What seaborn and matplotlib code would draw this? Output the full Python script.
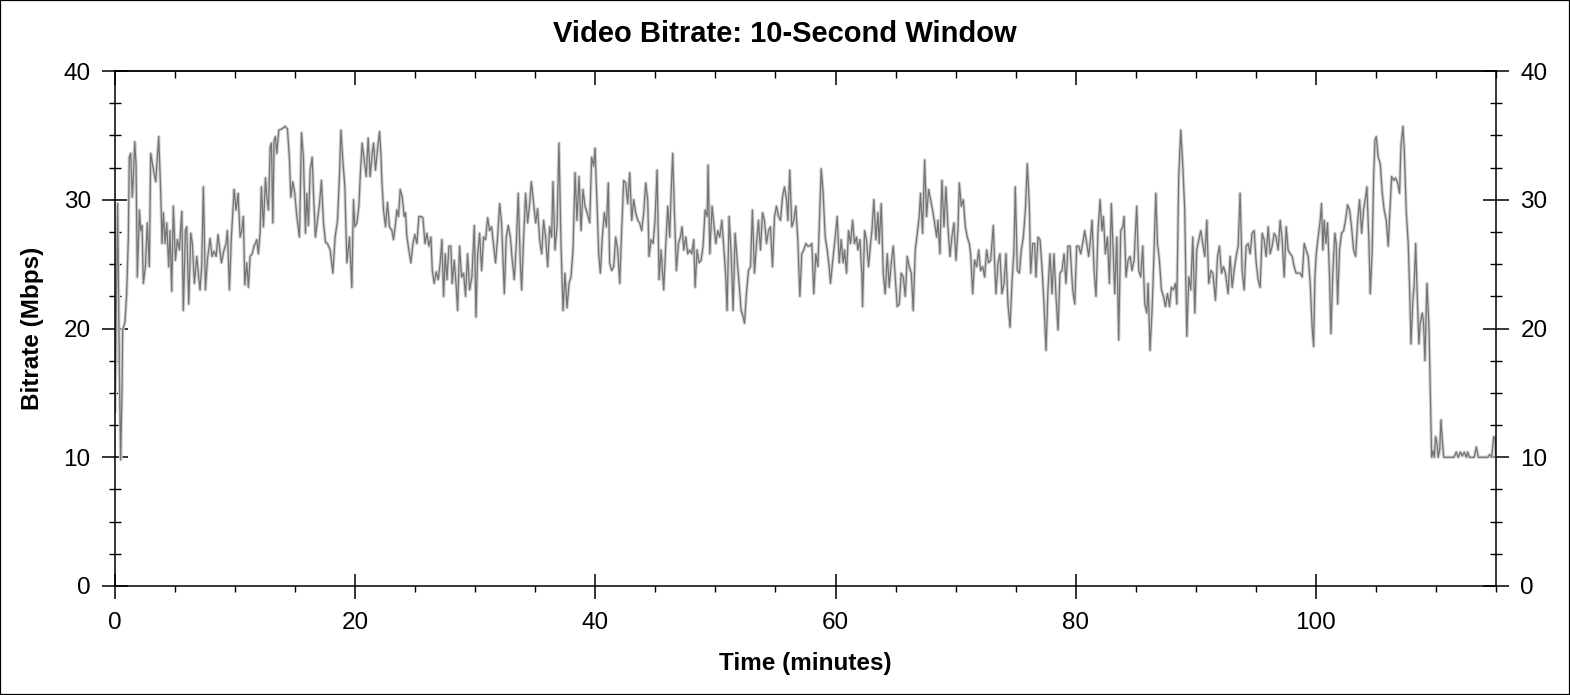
import matplotlib
matplotlib.use("Agg")
import matplotlib.pyplot as plt
import pandas as pd
import seaborn as sns
from matplotlib.ticker import MultipleLocator
from matplotlib.patches import Rectangle

# ---------------- data ----------------
minutes = [
    0.00, 0.22, 0.36, 0.47, 0.58, 0.64, 0.83, 0.97, 1.11, 1.19, 1.31, 1.44, 1.53, 1.64, 1.75, 1.86,
    2.03, 2.14, 2.25, 2.36, 2.53, 2.69, 2.86, 2.97, 3.19, 3.39, 3.64, 3.81, 3.92, 4.03, 4.17, 4.31,
    4.47, 4.58, 4.72, 4.86, 5.03, 5.19, 5.36, 5.56, 5.69, 5.86, 5.97, 6.14, 6.31, 6.44, 6.61, 6.81,
    6.97, 7.08, 7.22, 7.36, 7.53, 7.69, 7.92, 8.08, 8.25, 8.42, 8.58, 8.86, 9.08, 9.25, 9.36, 9.53,
    9.69, 9.81, 9.92, 10.08, 10.25, 10.42, 10.56, 10.69, 10.81, 10.97, 11.11, 11.25, 11.42, 11.58,
    11.81, 11.94, 12.08, 12.19, 12.36, 12.53, 12.64, 12.78, 12.92, 13.03, 13.14, 13.25, 13.36, 13.47,
    13.64, 13.89, 14.17, 14.36, 14.53, 14.64, 14.81, 14.97, 15.14, 15.36, 15.53, 15.69, 15.86, 15.97,
    16.11, 16.25, 16.42, 16.53, 16.69, 16.86, 17.03, 17.19, 17.36, 17.53, 17.69, 17.92, 18.14, 18.33,
    18.53, 18.69, 18.81, 18.97, 19.14, 19.31, 19.53,
    19.72, 19.86, 19.97, 20.14, 20.31, 20.42, 20.58, 20.75, 20.92, 21.08, 21.25, 21.42, 21.53, 21.69,
    21.86, 22.03, 22.14, 22.22, 22.36, 22.53, 22.69, 22.86, 23.06, 23.19, 23.33, 23.47, 23.61, 23.75,
    23.92, 24.08, 24.19, 24.31, 24.47, 24.64, 24.81, 24.97, 25.14, 25.31, 25.47, 25.64, 25.81, 25.97,
    26.14, 26.31, 26.42, 26.58, 26.75, 26.92, 27.08, 27.22, 27.36, 27.50, 27.64, 27.81, 27.97, 28.08,
    28.25, 28.42, 28.53, 28.69, 28.86, 29.03, 29.19, 29.36, 29.53, 29.72, 29.92, 30.06, 30.19, 30.36,
    30.53, 30.69, 30.86, 31.03, 31.19, 31.36, 31.53, 31.69, 31.86, 32.03, 32.19, 32.42, 32.58, 32.75,
    32.92, 33.08, 33.25, 33.42, 33.58, 33.75, 33.86, 34.03, 34.19, 34.36, 34.53, 34.67, 34.86, 35.03,
    35.19, 35.36, 35.53, 35.69, 35.86, 36.03, 36.19, 36.36, 36.47, 36.64, 36.81, 36.97, 37.14, 37.31,
    37.47, 37.64, 37.81, 37.97, 38.14, 38.31, 38.47, 38.64, 38.81, 38.97, 39.14, 39.31, 39.47,
    39.53, 39.69, 39.86, 39.97, 40.14, 40.28, 40.42, 40.58, 40.75, 40.92, 41.08, 41.19, 41.36, 41.53,
    41.69, 41.86, 42.03, 42.19, 42.36, 42.53, 42.69, 42.86, 43.03, 43.19, 43.36, 43.53, 43.69, 43.86,
    44.03, 44.19, 44.36, 44.47, 44.64, 44.81, 44.97, 45.14, 45.31, 45.47, 45.69, 45.86, 46.03, 46.19,
    46.31, 46.44, 46.58, 46.75, 46.92, 47.08, 47.22, 47.36, 47.53, 47.69, 47.86, 48.03, 48.19, 48.31,
    48.47, 48.64, 48.81, 48.97, 49.14, 49.31, 49.39, 49.53, 49.72, 49.86, 50.03, 50.19, 50.36, 50.53,
    50.69, 50.86, 50.97, 51.14, 51.31, 51.47, 51.64, 51.81, 51.97, 52.14, 52.31, 52.42, 52.58, 52.75,
    52.92, 53.08, 53.25, 53.42, 53.58, 53.75, 53.92, 54.08, 54.25, 54.42, 54.58, 54.75, 54.92, 55.08,
    55.25, 55.42, 55.58, 55.75, 55.92, 56.03, 56.19, 56.36, 56.53, 56.69, 56.86, 57.03, 57.19, 57.36,
    57.53, 57.69, 57.86, 58.03, 58.19, 58.36, 58.53, 58.69, 58.81, 58.97, 59.14, 59.31, 59.47,
    59.58, 59.75, 59.92, 60.14, 60.31, 60.47, 60.64, 60.75, 60.92, 61.08, 61.25, 61.42, 61.58, 61.75,
    61.86, 62.03, 62.19, 62.25, 62.42, 62.58, 62.75, 62.92, 63.03, 63.19, 63.36, 63.53, 63.64, 63.81,
    63.97, 64.14, 64.31, 64.47, 64.64, 64.81, 64.97, 65.14, 65.31, 65.47, 65.64, 65.81, 65.97, 66.14,
    66.31, 66.47, 66.64, 66.81, 66.97, 67.08, 67.25, 67.42, 67.58, 67.75, 67.92, 68.08, 68.25, 68.42,
    68.53, 68.69, 68.86, 69.03, 69.19, 69.36, 69.53, 69.69, 69.86, 70.03, 70.19, 70.31, 70.47, 70.64,
    70.81, 70.97, 71.14, 71.25, 71.42, 71.58, 71.75, 71.92, 72.08, 72.25, 72.42, 72.58, 72.75, 72.92,
    73.14, 73.25, 73.36, 73.53, 73.69, 73.86, 74.03, 74.19, 74.36, 74.53, 74.69, 74.86, 74.97, 75.14,
    75.31, 75.47, 75.64, 75.81, 75.97, 76.14, 76.25, 76.42, 76.58, 76.69, 76.86, 77.03, 77.19, 77.36,
    77.53, 77.69, 77.86, 78.03, 78.19, 78.36, 78.53, 78.69, 78.86, 79.03, 79.19, 79.36, 79.53,
    79.75, 79.92, 80.08, 80.25, 80.42, 80.58, 80.75, 80.92, 81.08, 81.25, 81.36, 81.53, 81.69, 81.86,
    82.03, 82.19, 82.31, 82.47, 82.64, 82.81, 82.97, 83.14, 83.25, 83.42, 83.58, 83.75, 83.92, 84.03,
    84.19, 84.36, 84.53, 84.69, 84.86, 85.08, 85.25, 85.42, 85.58, 85.75, 85.92, 86.03, 86.19, 86.36,
    86.53, 86.67, 86.81, 86.97, 87.14, 87.31, 87.47, 87.64, 87.81, 87.97, 88.14, 88.31, 88.42, 88.58,
    88.75, 88.92, 89.08, 89.25, 89.42, 89.58, 89.75, 89.92, 90.08, 90.25, 90.42, 90.58, 90.75, 90.92,
    91.08, 91.25, 91.42, 91.64, 91.81, 91.97, 92.14, 92.31, 92.47, 92.69, 92.86, 93.03, 93.19, 93.36,
    93.53, 93.69, 93.86, 94.03, 94.19, 94.36, 94.53, 94.69, 94.86, 95.03, 95.19, 95.36, 95.53, 95.69,
    95.86, 96.03, 96.19, 96.36, 96.53, 96.69, 96.86, 97.03, 97.19, 97.36, 97.53, 97.69, 97.86, 98.03,
    98.19, 98.36, 98.53, 98.69, 98.86, 99.03, 99.19, 99.36, 99.53,
    99.69, 99.81, 99.92, 100.03, 100.19, 100.36, 100.47, 100.58, 100.69, 100.83, 100.97, 101.14,
    101.25, 101.42, 101.58, 101.69, 101.81, 101.97, 102.14, 102.31, 102.47, 102.64, 102.81, 102.97,
    103.14, 103.31, 103.47, 103.64, 103.81, 103.97, 104.14, 104.25, 104.42, 104.53, 104.69, 104.81,
    104.92, 105.03, 105.19, 105.36, 105.53, 105.69, 105.86, 106.03, 106.14, 106.31, 106.47, 106.64,
    106.81, 106.97, 107.08, 107.25, 107.36, 107.53, 107.69, 107.81, 107.92, 108.08, 108.19, 108.31,
    108.42, 108.58, 108.69, 108.86, 108.97, 109.08, 109.25, 109.42, 109.53, 109.64, 109.75, 109.86,
    109.97, 110.08, 110.19, 110.31, 110.42, 110.53, 110.64, 111.00, 111.50, 111.69, 111.86, 112.03,
    112.19, 112.36, 112.53, 112.64, 112.78, 113.19, 113.36, 113.53, 114.31, 114.47, 114.64, 114.81,
    114.92, 115.00,
]

bitrate = [
    13.5, 29.7, 17.0, 9.8, 15.0, 19.9, 20.5, 22.7, 27.0, 33.3, 33.6, 30.2, 31.8, 34.5, 32.8, 24.0,
    29.2, 27.6, 28.0, 23.5, 24.8, 28.2, 24.8, 33.6, 32.4, 31.4, 34.9, 30.5, 26.6, 29.0, 26.6, 28.2,
    24.8, 27.6, 22.9, 29.5, 25.3, 26.9, 26.1, 29.1, 21.4, 27.6, 27.9, 21.9, 27.4, 26.6, 23.5, 25.6,
    24.0, 23.0, 24.8, 31.0, 23.0, 25.3, 27.0, 25.6, 26.0, 25.6, 27.3, 25.1, 26.1, 26.6, 27.6, 23.0,
    27.1, 29.0, 30.8, 29.2, 30.5, 27.1, 27.6, 28.7, 23.4, 25.1, 23.2, 25.6, 25.8, 26.4,
    26.9, 25.8, 27.4, 31.0, 27.9, 31.7, 30.2, 29.2, 34.1, 34.4, 28.2, 34.6, 34.9, 33.6,
    35.4, 35.5, 35.7, 35.5, 33.1, 30.2, 31.4, 30.5, 28.7, 27.1, 35.2, 33.3, 27.4, 30.5,
    28.0, 32.3, 33.3, 30.5, 27.1, 28.4, 29.7, 31.5, 28.2, 26.7, 26.6, 26.1, 24.3, 27.1,
    28.4, 31.8, 35.4, 33.1, 31.0, 25.1, 27.1,
    23.2, 30.0, 27.9, 28.2, 29.5, 31.8, 34.4, 33.1, 31.8, 34.8, 31.8, 33.6, 34.4, 32.3,
    33.9, 35.3, 33.6, 31.5, 29.2, 27.9, 29.8, 27.9, 27.6, 26.9, 27.9, 29.2, 28.7, 30.8,
    30.2, 28.7, 29.0, 27.1, 26.1, 25.1, 26.6, 27.3, 26.6, 28.7, 28.7, 28.6, 26.6, 27.4,
    26.4, 27.1, 24.5, 23.5, 24.4, 23.8, 25.1, 26.9, 22.5, 25.8, 23.8, 26.4, 26.4, 23.5,
    25.3, 23.2, 21.4, 26.4, 24.0, 24.3, 22.5, 25.8, 23.0, 24.0, 28.0, 20.9, 25.6, 27.4,
    24.5, 27.1, 26.9, 28.6, 27.6, 27.9, 26.4, 25.1, 27.1, 29.7, 28.2, 22.7, 27.1, 28.0,
    27.1, 25.3, 23.8, 26.6, 30.5, 25.1, 23.0, 27.1, 30.5, 28.2, 29.7, 31.4, 29.7, 28.2,
    29.3, 26.9, 25.8, 28.4, 27.1, 24.8, 27.9, 27.1, 31.4, 26.1, 27.9, 34.4, 26.6, 21.4,
    24.3, 21.6, 23.5, 24.0, 26.1, 32.1, 28.4, 31.8, 27.6, 30.8, 29.5, 29.0, 28.4,
    28.2, 33.3, 32.6, 34.0, 29.7, 25.8, 24.3, 27.1, 29.0, 27.9, 31.3, 25.1, 24.5, 24.8,
    27.1, 26.1, 23.5, 27.6, 31.5, 31.3, 29.7, 32.1, 28.4, 30.0, 29.0, 28.4, 28.2, 27.6,
    29.0, 31.3, 30.0, 25.6, 26.9, 26.6, 28.4, 32.3, 23.8, 26.1, 23.0, 26.4, 29.5, 27.1,
    30.5, 33.6, 29.2, 24.5, 26.6, 27.1, 27.9, 26.1, 27.1, 25.8, 26.1, 25.8, 26.9, 23.2,
    26.1, 25.1, 25.3, 26.4, 29.2, 28.7, 32.7, 25.8, 29.5, 28.2, 26.6, 27.6, 27.1, 28.4,
    26.4, 24.0, 21.4, 28.7, 25.8, 21.4, 27.4, 25.3, 23.5, 21.4, 20.9, 20.4, 22.7, 24.5,
    24.8, 29.2, 24.3, 26.6, 28.4, 26.1, 29.0, 28.4, 26.6, 27.6, 27.9, 24.8, 28.7, 29.5,
    28.7, 28.4, 30.2, 31.0, 30.0, 28.4, 32.3, 27.9, 28.4, 29.5, 26.9, 22.5, 25.8, 26.1,
    26.6, 26.4, 26.4, 26.6, 22.7, 25.8, 24.8, 29.2, 32.4, 30.5, 27.1, 26.1, 24.8,
    23.5, 25.1, 26.6, 28.7, 25.1, 26.9, 25.1, 26.1, 24.3, 27.6, 26.6, 28.4, 26.6, 27.1,
    26.1, 26.9, 24.3, 21.7, 27.6, 26.9, 24.8, 26.6, 27.6, 30.0, 26.9, 29.0, 26.6, 29.7,
    24.3, 22.7, 25.8, 23.2, 25.1, 26.4, 24.0, 21.7, 21.9, 24.3, 24.0, 22.5, 25.6, 24.8,
    24.3, 21.4, 26.1, 27.4, 28.7, 30.5, 27.4, 33.1, 28.7, 30.8, 30.0, 29.2, 28.2, 27.1,
    28.4, 25.8, 31.5, 27.9, 31.0, 27.9, 25.6, 27.1, 28.2, 25.3, 27.6, 31.3, 29.5, 30.0,
    27.9, 27.1, 26.6, 25.8, 22.7, 25.3, 24.8, 26.1, 24.5, 24.8, 24.0, 26.1, 25.1, 25.3,
    28.0, 25.1, 22.7, 25.1, 25.8, 22.7, 23.5, 25.8, 21.9, 20.1, 23.5, 26.1, 31.0, 24.5,
    24.3, 26.1, 27.1, 29.2, 32.8, 29.5, 24.3, 26.6, 26.6, 24.0, 27.1, 26.9, 24.8, 21.9,
    18.3, 23.0, 25.8, 22.7, 25.8, 22.5, 19.9, 24.3, 24.5, 25.8, 23.5, 26.4, 26.4,
    23.0, 21.9, 26.4, 26.4, 25.8, 26.6, 27.6, 26.6, 25.6, 27.1, 28.4, 24.5, 22.5, 27.6,
    30.0, 27.6, 28.7, 25.8, 27.1, 23.5, 29.7, 25.6, 22.7, 27.1, 19.1, 27.6, 27.9, 28.7,
    24.0, 25.3, 25.6, 24.5, 25.3, 29.5, 24.5, 24.0, 26.4, 21.9, 21.2, 23.5, 18.3, 21.4,
    26.1, 30.5, 26.6, 25.3, 23.0, 22.5, 21.7, 22.7, 21.7, 23.2, 23.0, 23.5, 21.9, 31.8,
    35.4, 32.6, 29.2, 19.4, 24.0, 23.0, 27.1, 21.2, 26.1, 26.9, 27.6, 26.6, 25.6, 28.4,
    23.5, 24.5, 24.3, 22.2, 25.6, 26.4, 24.3, 24.8, 24.3, 22.7, 25.6, 23.2, 24.5, 25.6,
    26.4, 30.5, 24.5, 23.0, 26.4, 26.6, 25.8, 27.4, 27.6, 25.1, 23.8, 23.2, 27.4, 26.9,
    25.6, 27.9, 25.8, 26.4, 27.4, 27.1, 26.1, 28.4, 26.9, 24.0, 27.9, 26.1, 25.8, 25.6,
    24.8, 24.3, 24.3, 24.3, 24.0, 26.6, 26.1, 25.6, 23.5,
    20.1, 18.6, 24.0, 25.8, 27.1, 28.4, 29.7, 26.1, 28.4, 26.6, 28.2, 24.0,
    19.6, 24.5, 27.4, 26.6, 21.9, 26.1, 27.4, 27.6, 28.4, 29.6, 29.2, 27.9,
    26.1, 25.6, 28.2, 30.0, 27.4, 29.2, 30.2, 31.0, 26.6, 22.7, 26.1, 31.8,
    34.6, 34.9, 33.3, 32.8, 30.5, 29.2, 28.4, 26.4, 28.7, 31.8, 31.5, 31.7,
    31.3, 30.5, 34.1, 35.7, 33.9, 29.0, 26.6, 23.0, 18.8, 22.2, 23.5, 26.6,
    23.2, 18.8, 20.4, 21.2, 20.4, 17.5, 23.5, 20.1, 15.0, 10.0, 10.5, 10.0,
    11.6, 11.1, 10.0, 10.6, 12.9, 11.3, 10.0, 10.0, 10.0, 10.4, 10.0, 10.4,
    10.1, 10.4, 10.0, 10.4, 10.0, 10.0, 10.8, 10.0, 10.0, 10.2, 10.0, 11.6,
    11.5, 10.0,
]

x_ticks = [0, 20, 40, 60, 80, 100]
y_ticks = [0, 10, 20, 30, 40]
title_text = "Video Bitrate: 10-Second Window"
x_label = "Time (minutes)"
y_label = "Bitrate (Mbps)"

df = pd.DataFrame({"minutes": minutes, "bitrate": bitrate})

# ---------------- figure ----------------
sns.set_theme(style="white")
plt.rcParams["font.family"] = ["Liberation Sans", "DejaVu Sans"]
plt.rcParams["text.color"] = "black"
plt.rcParams["axes.labelcolor"] = "black"
plt.rcParams["xtick.color"] = "black"
plt.rcParams["ytick.color"] = "black"

W, H = 1570, 695
fig = plt.figure(figsize=(W / 100, H / 100), dpi=100)
fig.patch.set_facecolor("white")
ax = fig.add_axes([115 / W, 109 / H, 1381 / W, 515 / H])
ax.set_facecolor("white")

# light halo + main trace
sns.lineplot(data=df, x="minutes", y="bitrate", ax=ax, color="#d2d2d2",
             linewidth=2.4, sort=False, estimator=None)
sns.lineplot(data=df, x="minutes", y="bitrate", ax=ax, color="#747474",
             linewidth=0.9, sort=False, estimator=None)

ax.set_xlim(0, 115)
ax.set_ylim(0, 40)
ax.set_xticks(x_ticks)
ax.set_yticks(y_ticks)
ax.xaxis.set_minor_locator(MultipleLocator(5))
ax.yaxis.set_minor_locator(MultipleLocator(2.5))

for s in ax.spines.values():
    s.set_visible(True)
    s.set_color("black")
    s.set_linewidth(1.1)

ax.tick_params(axis="y", which="major", direction="inout", length=19, width=1.1,
               left=True, right=True, labelleft=True, labelright=True,
               labelsize=17.5, pad=8, colors="black")
ax.tick_params(axis="y", which="minor", direction="inout", length=8, width=1.0,
               left=True, right=True, colors="black")
ax.tick_params(axis="x", which="major", direction="inout", length=18, width=1.1,
               bottom=True, top=False, labelsize=17.5, pad=10, colors="black")
ax.tick_params(axis="x", which="minor", direction="out", length=4, width=1.0,
               bottom=True, top=False, colors="black")

# top ticks pointing inward only
top = ax.secondary_xaxis("top")
top.set_xticks(x_ticks)
top.xaxis.set_minor_locator(MultipleLocator(5))
top.tick_params(axis="x", which="major", direction="in", length=10, width=1.1,
                labeltop=False, colors="black")
top.tick_params(axis="x", which="minor", direction="in", length=5, width=1.0, colors="black")
top.spines["top"].set_linewidth(1.1)

ax.set_xlabel(x_label, fontsize=17.5, fontweight="bold", labelpad=13, color="black")
ax.set_ylabel(y_label, fontsize=17.5, fontweight="bold", labelpad=14, color="black")
ax.grid(False)

fig.text(0.5, 1 - 34 / H, title_text, ha="center", va="center",
         fontsize=21, fontweight="bold", color="black")

fig.patches.append(Rectangle((0, 0), 1, 1, transform=fig.transFigure, fill=False,
                             edgecolor="black", linewidth=1.6))

fig.savefig("out.png", dpi=100, facecolor="white")
